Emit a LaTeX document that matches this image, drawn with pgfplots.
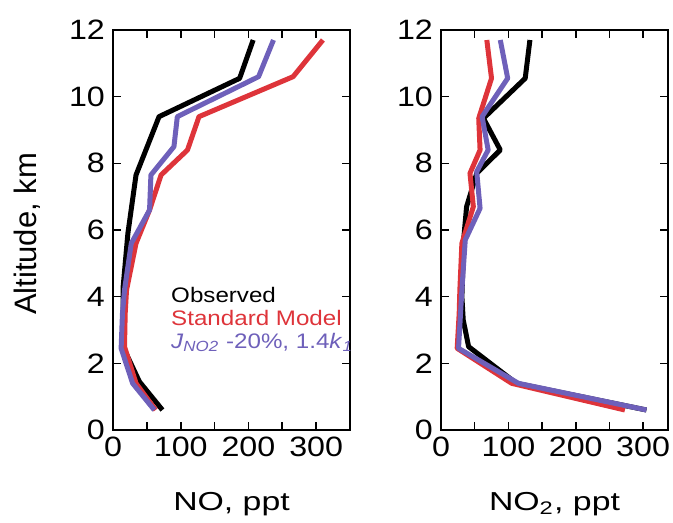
\documentclass[border=0pt]{standalone}
\usepackage{pgfplots}
\pgfplotsset{compat=1.18}
\usepackage{fontspec}
\setmainfont{Liberation Sans}

\definecolor{stdred}{RGB}{222,52,58}
\definecolor{altblue}{RGB}{110,96,186}

\pgfplotsset{
  profile/.style={
    scale only axis,
    height=200pt,
    ymin=0, ymax=12, xmin=0,
    ytick={0,2,...,12},
    xtick={0,100,200,300},
    minor xtick={50,150,250,350},
    tick align=inside,
    major tick length=4pt, minor tick length=4pt,
    axis line style={line width=1pt},
    every tick/.style={line width=0.8pt, black},
    /pgf/number format/assume math mode=true,
    every tick label/.append style={font=\fontsize{14}{14}\selectfont, xscale=1.15},
    xlabel style={font=\fontsize{13}{13}\selectfont, xscale=1.3,
      at={(axis description cs:0.5,-0.185)}, anchor=center},
    clip=false,
  },
  prof/.style={line width=2.5pt, line join=round, no markers},
}

\begin{document}
\begin{tikzpicture}
% NO
\begin{axis}[profile, width=118.5pt, xmax=350,
  at={(0pt,0pt)}, anchor=south west,
  xlabel={NO, ppt},
  ylabel={Altitude, km},
  ylabel style={font=\fontsize{15.5}{15.5}\selectfont,
    at={(axis description cs:-0.36,0.49)}, anchor=center},
  ]
  \addplot[prof, black] coordinates {
    (73,0.6) (39,1.45) (17,2.4) (15,3.3) (15,4.3) (22,5.9) (34,7.65)
    (68,9.4) (187,10.55) (207,11.7)
  };
  \addplot[prof, stdred] coordinates {
    (63,0.6) (34,1.4) (17,2.5) (18,3.5) (20,4.2) (34,5.6) (54,6.6) (71,7.65)
    (110,8.4) (127,9.4) (266,10.6) (310,11.7)
  };
  \addplot[prof, altblue] coordinates {
    (61,0.6) (29,1.4) (12,2.45) (14,3.5) (17,4.2) (27,5.6) (54,6.6) (56,7.65)
    (90,8.5) (95,9.4) (215,10.6) (237,11.7)
  };
  \node[anchor=west, font=\fontsize{10.5}{10.5}\selectfont, xscale=1.15, text=black]
    at (axis cs:74,4.05) {Observed};
  \node[anchor=west, font=\fontsize{10.5}{10.5}\selectfont, xscale=1.15, text=stdred]
    at (axis cs:74,3.35) {Standard Model};
  \node[anchor=west, font=\fontsize{10.5}{10.5}\selectfont, xscale=1.15, text=altblue]
    at (axis cs:74,2.62) {\textit{J}\textsubscript{\textit{NO2}} -20\%, 1.4\textit{k}\textsubscript{\textit{1}}};
\end{axis}
% NO2
\begin{axis}[profile, width=113.5pt, xmax=337,
  at={(164pt,0pt)}, anchor=south west,
  minor xtick={50,150,250},
  xlabel={NO\textsubscript{2}, ppt},
  ]
  \addplot[prof, black] coordinates {
    (305,0.6) (112,1.4) (41,2.5) (33,3.3) (31,4.0) (34,5.8) (38,6.7) (53,7.7)
    (88,8.4) (63,9.35) (125,10.55) (132,11.7)
  };
  \addplot[prof, stdred] coordinates {
    (273,0.6) (105,1.4) (24,2.45) (27,3.5) (28,4.2) (31,5.6) (48,6.7) (43,7.7)
    (58,8.4) (56,9.35) (75,10.55) (68,11.7)
  };
  \addplot[prof, altblue] coordinates {
    (305,0.6) (115,1.4) (26,2.45) (29,3.5) (31,4.2) (36,5.7) (58,6.65) (53,7.75)
    (70,8.4) (61,9.4) (99,10.55) (88,11.7)
  };
\end{axis}
\pgfresetboundingbox
\path[use as bounding box] (-56.5pt,-46.5pt) rectangle (280pt,215pt);
\end{tikzpicture}
\end{document}
